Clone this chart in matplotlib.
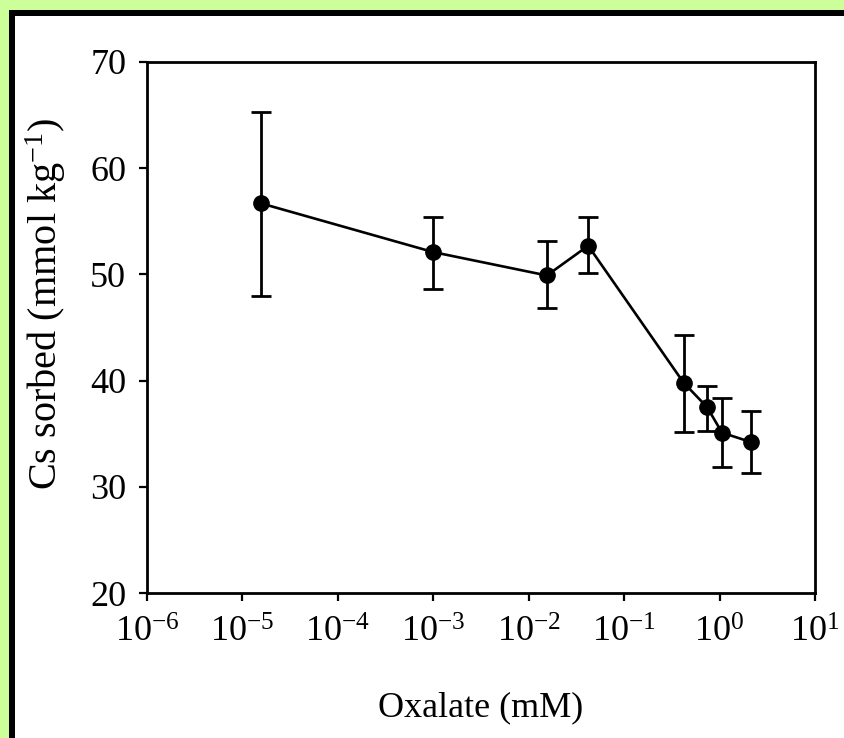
import matplotlib
matplotlib.use('Agg')
import matplotlib.pyplot as plt
from matplotlib.patches import Rectangle

plt.rcParams['font.family'] = ['Liberation Serif', 'DejaVu Serif']
plt.rcParams['mathtext.fontset'] = 'custom'
plt.rcParams['mathtext.rm'] = 'Liberation Serif'
plt.rcParams['mathtext.it'] = 'Liberation Serif:italic'

# 数据：草酸浓度 (mM) 与 Cs 吸附量
oxalate = [1.55e-5, 1.0e-3, 1.55e-2, 4.2e-2, 0.42, 0.74, 1.06, 2.15]
cs_sorbed = [56.7, 52.1, 49.9, 52.7, 39.8, 37.5, 35.1, 34.2]
err_low = [8.7, 3.5, 3.1, 2.6, 4.6, 2.2, 3.2, 2.9]
err_high = [8.6, 3.3, 3.2, 2.7, 4.5, 2.0, 3.3, 2.9]

xtick_vals = [1e-6, 1e-5, 1e-4, 1e-3, 1e-2, 1e-1, 1e0, 1e1]
xtick_labels = [r'$\mathrm{10^{-6}}$', r'$\mathrm{10^{-5}}$', r'$\mathrm{10^{-4}}$',
                r'$\mathrm{10^{-3}}$', r'$\mathrm{10^{-2}}$', r'$\mathrm{10^{-1}}$',
                r'$\mathrm{10^{0}}$', r'$\mathrm{10^{1}}$']
ytick_vals = [20, 30, 40, 50, 60, 70]

fig = plt.figure(figsize=(8.44, 7.38), dpi=100)
fig.patch.set_facecolor('white')
# 扫描图边框：绿色底 + 黑线（只在上、左两边）
fig.patches.append(Rectangle((0, 0), 1, 1, transform=fig.transFigure,
                             facecolor='#ccff99', edgecolor='none', zorder=-3))
fig.patches.append(Rectangle((8.5 / 844, 0), 1, 1 - 9.5 / 738, transform=fig.transFigure,
                             facecolor='black', edgecolor='none', zorder=-2))
fig.patches.append(Rectangle((15 / 844, 0), 1, 1 - 15.5 / 738, transform=fig.transFigure,
                             facecolor='white', edgecolor='none', zorder=-1))

ax = fig.add_axes([147 / 844, 1 - 593 / 738, (815 - 147) / 844, (593 - 62) / 738])
ax.errorbar(oxalate, cs_sorbed, yerr=[err_low, err_high], color='black',
            marker='o', markersize=11, linewidth=1.9, elinewidth=2.0,
            capsize=7.5, capthick=2.0)

ax.set_xscale('log')
ax.set_xlim(1e-6, 1e1)
ax.set_ylim(20, 70)
ax.set_xticks(xtick_vals)
ax.set_xticklabels(xtick_labels)
ax.minorticks_off()
ax.set_yticks(ytick_vals)
ax.tick_params(axis='both', direction='out', length=6, width=1.6, labelsize=26, pad=9)
ax.tick_params(axis='x', pad=11)
for s in ax.spines.values():
    s.set_linewidth(2.0)

ax.set_xlabel('Oxalate (mM)', fontsize=26, labelpad=30)
ax.set_ylabel(r'Cs sorbed (mmol kg$^{\mathrm{-1}}$)', fontsize=29)
ax.yaxis.set_label_coords(-0.119, 0.545)

fig.savefig('out.png', dpi=100)
